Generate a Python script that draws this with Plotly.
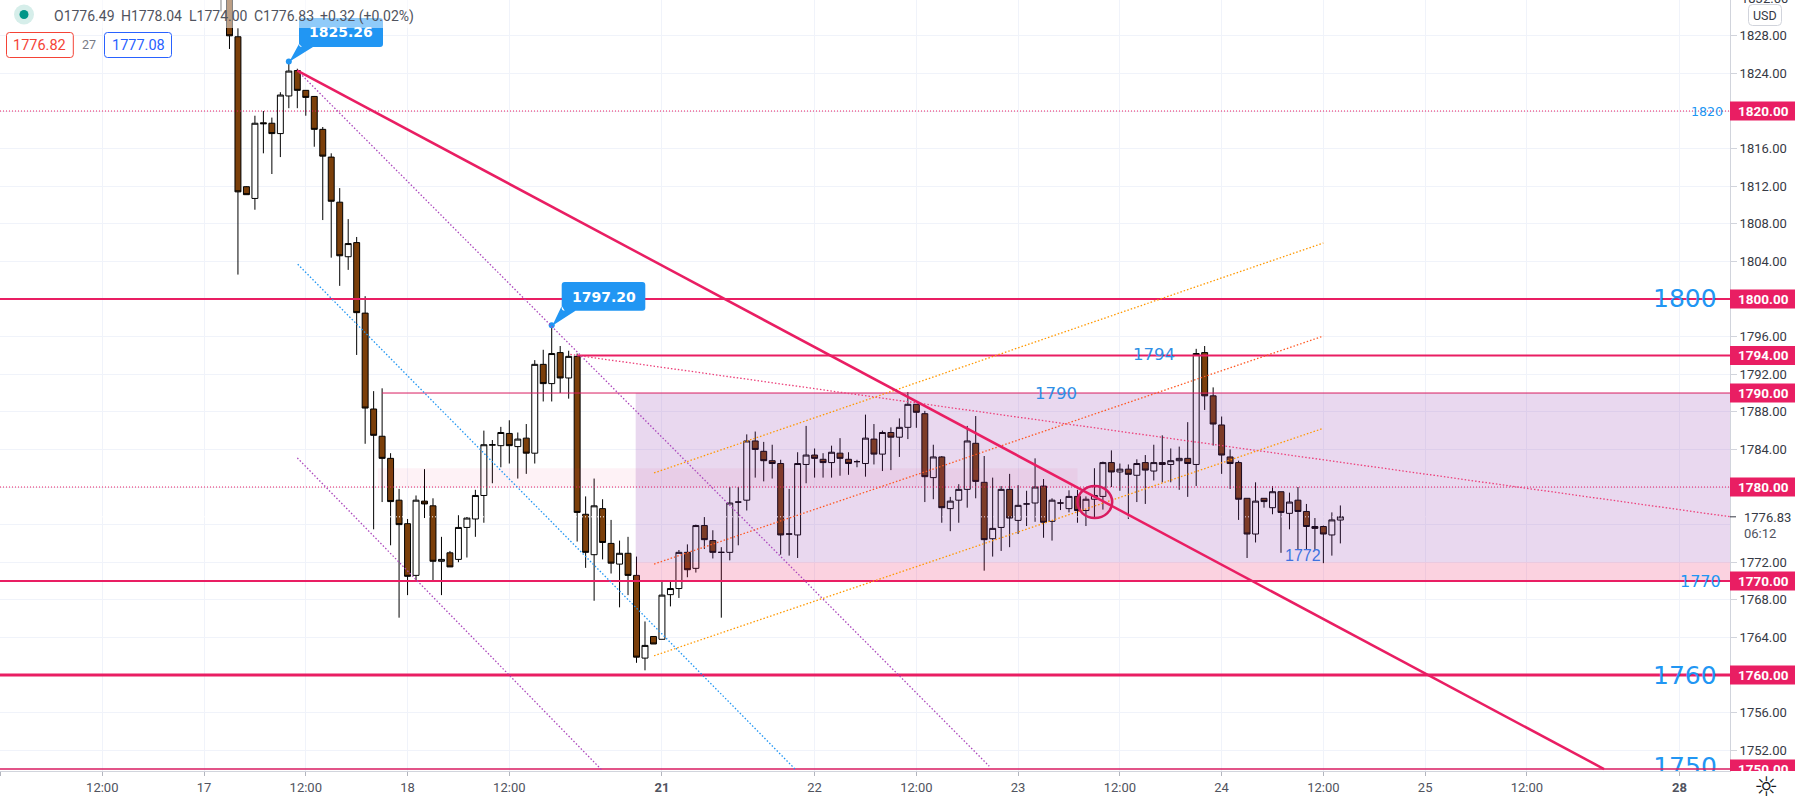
import plotly.graph_objects as go

# ---------- data (bar index = hours on the compressed time axis, 17th 00:00 = 0)
first_bar = 2
opens = [1836,1834,1827.9,1811.95,1810.7,1818.75,1818.7,1817.6,1821.6,1824.3,
 1822.2,1821.55,1818.05,1815.1,1810.3,1804.5,1806.0,1798.5,1788.3,1785.4,
 1783.05,1778.6,1776.1,1770.6,1778.5,1778,1772.1,1773,1772.3,1775.7,
 1776.6,1779.1,1784.45,1784.4,1785.7,1784.3,1785.2,1783.6,1793.05,1791,
 1794.3,1791.6,1793.9,1777.1,1772.8,1777.7,1774,1771.8,1772.95,1770.6,
 1761.8,1764.1,1763.8,1768.55,1769.2,1773.05,1771.35,1775.9,1774.3,1773.05,
 1773.05,1778.4,1778.6,1784.9,1783.8,1782.8,1782.5,1775,1774.9,1782.4,
 1783.4,1782.95,1782.6,1783.6,1782.95,1782.7,1782.5,1785.1,1783.5,1785.8,
 1785.3,1786.35,1788.8,1787.8,1781,1783.2,1777.7,1778.6,1779.75,1784.65,
 1780.5,1774.5,1775.7,1779.75,1776.45,1778.2,1778.3,1780.1,1776.35,1778.3,
 1777.7,1779,1777.5,1778.7,1779,1782.6,1781.6,1781.9,1781.25,1782.6,
 1781.7,1782.6,1782.4,1782.8,1783.05,1782.4,1794.3,1789.7,1786.6,1783.2,
 1782.6,1778.8,1775,1778.8,1777.8,1779.5,1777.2,1778.6,1777.4,1775.8,
 1775.8,1774.9,1776.49]
highs = [1840,1836,1828.8,1812,1819.5,1820,1819.3,1822,1825.26,1824.5,
 1822.2,1821.6,1818.3,1815.5,1811.8,1808.5,1806.6,1800.3,1790.2,1790.5,
 1783.6,1779.8,1776.6,1779.1,1781.9,1778.8,1774.7,1773.2,1777,1776.8,
 1779.7,1786,1785,1786.4,1787.1,1785.8,1786.7,1793.5,1794.6,1797.2,
 1795,1794.5,1794.2,1779,1780.9,1778.7,1776.5,1774.3,1774.7,1772.6,
 1765.7,1764.1,1769.9,1770,1773.3,1773.9,1776,1776.8,1775.4,1773.6,
 1780,1780,1785.6,1785.9,1784.8,1784.5,1782.9,1779.8,1783.7,1786.5,
 1784.1,1783.6,1784.4,1785.2,1783.7,1782.9,1787.7,1786.7,1786,1786.35,
 1787.3,1790.1,1788.8,1788.1,1784.5,1783.3,1778.95,1780.3,1786.5,1787.55,
 1783.3,1781,1780.1,1781.4,1780.2,1779.6,1783.05,1780.85,1778.8,1778.7,
 1779.65,1779.7,1779,1782,1782.7,1783.9,1782.5,1782.4,1782.95,1783.4,
 1784.5,1785.5,1784.1,1784.3,1786.9,1794.7,1795,1790.6,1787.5,1784,
 1782.8,1778.8,1780.5,1778.8,1780.1,1779.5,1779.4,1780,1778.2,1776.7,
 1775.9,1777.3,1778.04]
lows = [1830.6,1826.6,1802.6,1811.1,1809.5,1815.5,1813.3,1815.1,1820.3,1820.3,
 1819.5,1816.2,1808.4,1804.4,1801.4,1803.1,1794.05,1784.6,1775.5,1778.4,
 1773.8,1766.1,1768.5,1770.1,1776.7,1770,1768.5,1771.5,1772,1772.5,
 1774.7,1776.2,1780.4,1782.1,1782.5,1780.9,1781.4,1782.5,1789.1,1789.1,
 1790,1789.4,1774.2,1771.4,1767.9,1772.3,1770.8,1767.2,1768.5,1761.3,
 1760.5,1763.3,1763.8,1767.3,1768.2,1770.4,1770.9,1773.4,1772.4,1766.1,
 1772.2,1773.8,1777.5,1781,1780.6,1780.9,1772.8,1772.7,1772.45,1780.4,
 1781,1781,1781,1781.2,1781.3,1782.1,1781.1,1782.4,1781.7,1781.8,
 1783.2,1785.1,1786.3,1778.4,1778.7,1776.2,1775.3,1776.2,1777.8,1778.8,
 1771.1,1772.6,1773.2,1773.6,1775,1775.85,1776.3,1774.6,1774.3,1777.55,
 1777.3,1776.2,1775.85,1776.8,1777.6,1780,1779.6,1776.6,1778.4,1778.2,
 1780.7,1780.5,1780.5,1779.7,1778.95,1780.1,1788.2,1784.4,1781.4,1779.8,
 1776.5,1772.45,1774.1,1777.8,1777.1,1773,1775.5,1773.3,1773.3,1773.3,
 1771.9,1772.7,1774.0]
closes = [1835,1828,1811.4,1811.1,1818.7,1818.65,1817.6,1821.7,1824.25,1822.2,
 1821.45,1818.05,1815.2,1810.4,1804.6,1805.9,1798.55,1788.4,1785.5,1783.05,
 1778.45,1776,1770.5,1778.6,1778.2,1772.1,1772.3,1771.5,1775.7,1776.7,
 1779.1,1784.5,1784.5,1785.8,1784.4,1785.1,1783.6,1793.05,1791,1794.2,
 1791.6,1793.9,1777.3,1773.05,1778,1774.1,1771.9,1772.95,1770.6,1761.9,
 1763.15,1763.3,1768.5,1769.2,1773.05,1771.2,1775.9,1774.4,1773.05,1773.05,
 1778.3,1778.4,1784.9,1784,1782.8,1782.5,1774.9,1775,1782.5,1783.4,
 1783.05,1782.6,1783.7,1783.05,1782.5,1782.7,1785.2,1783.5,1785.8,1785.3,
 1786.35,1788.8,1787.95,1781.1,1783.2,1777.8,1778.5,1779.75,1784.9,1780.6,
 1774.4,1775.6,1779.75,1776.7,1778.05,1778.2,1780,1776.25,1778.6,1778.3,
 1779,1777.5,1778.7,1779.1,1782.6,1781.6,1781.9,1781.35,1782.5,1781.8,
 1782.6,1782.4,1782.8,1783.05,1782.5,1794.2,1789.7,1786.7,1783.4,1782.5,
 1778.7,1775,1778.5,1778.45,1779.5,1777.3,1778.4,1777.4,1775.8,1775.6,
 1775,1776.5,1776.83]

tick_bars = [-24,-12,0,12,24,36,54,72,84,96,108,120,132,144,156,174]
tick_labels = ["16","12:00","17","12:00","18","12:00","<b>21</b>","22","12:00","23","12:00","24","12:00","25","12:00","<b>28</b>"]
price_ticks = [1828,1824,1816,1812,1808,1804,1796,1792,1788,1784,1772,1768,1764,1756,1752]

level_tags = [1820,1800,1794,1790,1780,1770,1760,1750]
last_price = 1776.83
peak_bars = [10, 41]
peak_prices = [1825.26, 1797.20]
ohlc_items = [("O1776.49",52),("H1778.04",119),("L1774.00",186.7),("C1776.83",251.7),("+0.32 (+0.02%)",318.3)]

# ---------- frame
PW, PH = 1730.0, 771.0
Y_LOW, Y_HIGH = 1749.79, 1831.81
X_LOW, X_HIGH = -24.06, 179.95
PINK, BLUE = "#E91E63", "#2196F3"
FONT = "Roboto"

def xp(px): return px / PW
def yp(py): return 1 - py / PH
def bx(px): return X_LOW + px / PW * (X_HIGH - X_LOW)

def text(t, px, py, size, color, anchor="center", family=FONT, **kw):
    return dict(text=t, xref="paper", yref="paper", x=xp(px), y=yp(py), showarrow=False,
                xanchor=anchor, yanchor="middle", font=dict(size=size, color=color, family=family), **kw)

def rounded(x0, y0, x1, y1, r, fill, line=None, width=1, tail=None):
    p = [f"M {xp(x0+r)} {yp(y0)}", f"L {xp(x1-r)} {yp(y0)}", f"Q {xp(x1)} {yp(y0)} {xp(x1)} {yp(y0+r)}",
         f"L {xp(x1)} {yp(y1-r)}", f"Q {xp(x1)} {yp(y1)} {xp(x1-r)} {yp(y1)}"]
    if tail:
        for a, b in tail:
            p.append(f"L {xp(a)} {yp(b)}")
    p += [f"L {xp(x0+r)} {yp(y1)}", f"Q {xp(x0)} {yp(y1)} {xp(x0)} {yp(y1-r)}",
          f"L {xp(x0)} {yp(y0+r)}", f"Q {xp(x0)} {yp(y0)} {xp(x0+r)} {yp(y0)}", "Z"]
    return dict(type="path", xref="paper", yref="paper", path=" ".join(p), fillcolor=fill,
                line=dict(color=line or fill, width=width if line else 0), layer="above")

def seg(x0, y0, x1, y1, color, width=1, dash="solid"):
    return dict(type="line", xref="x", yref="y", x0=x0, y0=y0, x1=x1, y1=y1,
                line=dict(color=color, width=width, dash=dash), layer="above")

DOT = "1px,2px"
SLANT = "1.5px,2px"
shapes = []
# white last-price line: only shows on candle bodies, lies under the zones
shapes.append(seg(X_LOW, last_price, X_HIGH, last_price, "#ffffff", 1, "1px,2px"))
# zones
zone = lambda x0, x1, y0, y1, c: dict(type="rect", xref="x", yref="y", x0=x0, x1=x1, y0=y0, y1=y1,
                                      fillcolor=c, line=dict(width=0), layer="above")
shapes.append(zone(20.5, 103, 1780, 1782, "rgba(233,30,99,0.06)"))
shapes.append(zone(50.9, X_HIGH, 1772, 1790, "rgba(140,50,170,0.19)"))
shapes.append(zone(50.9, X_HIGH, 1770, 1772, "rgba(233,30,99,0.2)"))
# horizontal levels
shapes += [
    seg(X_LOW, 1820, X_HIGH, 1820, PINK, 1, DOT),
    seg(X_LOW, 1800, X_HIGH, 1800, PINK, 2),
    seg(44, 1794, X_HIGH, 1794, PINK, 2),
    seg(21, 1790, X_HIGH, 1790, "#D81B60", 1),
    seg(X_LOW, 1780, X_HIGH, 1780, PINK, 1, DOT),
    seg(X_LOW, 1770, X_HIGH, 1770, PINK, 2),
    seg(X_LOW, 1760, X_HIGH, 1760, PINK, 3),
    seg(X_LOW, 1750, X_HIGH, 1750, "#D81B60", 1.5),
]
# trend lines
PURPLE, ORANGE, CORAL = "#AB47BC", "#FF9800", "#FF5722"
shapes += [
    seg(11, 1824.3, 92.6, 1750.3, PURPLE, 1.3, SLANT),
    seg(11.05, 1803.7, 69.8, 1749.9, BLUE, 1.3, SLANT),
    seg(11, 1783.1, 46.9, 1749.9, PURPLE, 1.3, SLANT),
    seg(43.2, 1794.1, X_HIGH, 1776.84, "#EC407A", 1.3, SLANT),
    seg(53.07, 1781.5, 132, 1805.96, ORANGE, 1.3, SLANT),
    seg(53.07, 1771.8, 132, 1796.06, CORAL, 1.3, SLANT),
    seg(53.07, 1762.05, 132, 1786.25, ORANGE, 1.3, SLANT),
    seg(11, 1824.3, 165.1, 1750, PINK, 2.5),
]
shapes.append(dict(type="circle", xref="x", yref="y", x0=103, x1=107.1, y0=1776.7, y1=1780.1,
                   line=dict(color="#D81B60", width=2.5), fillcolor="rgba(233,30,99,0.1)", layer="above"))
# callouts
shapes.append(rounded(299, 18, 383, 47, 3, BLUE, tail=[(313, 47), (289.3, 61.7), (299, 44)]))
shapes.append(rounded(561.7, 282, 645.3, 310.7, 3, BLUE, tail=[(575.5, 310.7), (552.3, 325.7), (561.7, 306)]))
# header translucent veil
shapes.append(dict(type="rect", xref="paper", yref="paper", x0=0, x1=xp(415), y0=yp(28), y1=1,
                   fillcolor="rgba(255,255,255,0.5)", line=dict(width=0), layer="above"))
# status dot
shapes.append(dict(type="circle", xref="paper", yref="paper", x0=xp(14), x1=xp(34), y0=yp(24.5), y1=yp(4.5),
                   fillcolor="#D6EEEA", line=dict(width=0), layer="above"))
shapes.append(dict(type="circle", xref="paper", yref="paper", x0=xp(19.5), x1=xp(28.5), y0=yp(19), y1=yp(10),
                   fillcolor="#009688", line=dict(width=0), layer="above"))
# bid/ask boxes
shapes.append(rounded(6.5, 32.5, 73.3, 57.5, 3, "#ffffff", "#F44336", 1))
shapes.append(rounded(104.5, 32.5, 171.5, 57.5, 3, "#ffffff", "#2962FF", 1))
# price tags (clipped to the plot height)
for lv in level_tags:
    h = 9.5 / PH * (Y_HIGH - Y_LOW)
    shapes.append(dict(type="rect", xref="paper", yref="y", x0=1, x1=xp(1795), y0=lv - h, y1=lv + h,
                       fillcolor=PINK, line=dict(width=0), layer="above"))
# USD button and last price tick
shapes.append(rounded(1748.5, 4.5, 1781.5, 25.5, 4, "#ffffff", "#D1D4DC", 1))
shapes.append(dict(type="line", xref="paper", yref="y", x0=1, x1=xp(1736), y0=last_price, y1=last_price,
                   line=dict(color="#363A45", width=1), layer="above"))

anns = []
for t, px in ohlc_items:
    anns.append(text(t, px, 16, 14, "#50535E", "left"))
anns += [
    text("1776.82", 39.9, 45, 14.5, "#F44336"),
    text("27", 89, 44.5, 12.5, "#787B86"),
    text("1777.08", 138, 45, 14.5, "#2962FF"),
    text("<b>1825.26</b>", 341, 32, 14, "#ffffff", family="DejaVu Sans"),
    text("<b>1797.20</b>", 603.5, 296.5, 14, "#ffffff", family="DejaVu Sans"),
    text("1800", 1685, 299, 25, BLUE, family="DejaVu Sans"),
    text("1760", 1685, 675, 25, BLUE, family="DejaVu Sans"),
    text("1820", 1706.7, 111.5, 12.6, BLUE, family="DejaVu Sans"),
    text("1770", 1700, 581, 16, BLUE, family="DejaVu Sans"),
    text("1790", 1056, 393, 16.5, "#2F8FE6", family="DejaVu Sans"),
    text("1794", 1154, 355, 16.5, "#2F8FE6", family="DejaVu Sans"),
    text("1772", 1302.6, 555, 16, "#3F73E0", family="Liberation Sans"),
]
for lv in level_tags:
    py = (Y_HIGH - lv) / (Y_HIGH - Y_LOW) * PH
    anns.append(text(f"<b>{lv:.2f}</b>", 1763.5, py, 13.5, "#ffffff"))
# time-axis corner hides anything that runs below the price column
anns.append(dict(text=" ", xref="paper", yref="paper", x=xp(1731), y=yp(772), xanchor="left", yanchor="top",
                 showarrow=False, bgcolor="#ffffff", width=66, height=29, borderpad=0))
anns += [
    text("☼", 1765.5, 786, 27, "#131722", family="DejaVu Sans"),
    text("USD", 1765, 15, 12.5, "#363A45"),
    text("1832.00", 1764.5, -1.5, 13, "#363A45"),
    text(f"{last_price:.2f}", 1742, 517.5, 13, "#363A45", "left"),
    text("06:12", 1742, 533, 13, "#50535E", "left"),
]

fig = go.Figure()
bars = list(range(first_bar, first_bar + len(opens)))
fig.add_trace(go.Candlestick(
    x=bars, open=opens, high=highs, low=lows, close=closes,
    whiskerwidth=0, showlegend=False, hoverinfo="skip",
    increasing=dict(line=dict(color="#000000", width=1), fillcolor="#ffffff"),
    decreasing=dict(line=dict(color="#000000", width=1), fillcolor="#7B3F0A"),
))
fig.add_trace(go.Scatter(x=peak_bars, y=peak_prices, mode="markers", showlegend=False, hoverinfo="skip",
                         marker=dict(color=BLUE, size=6)))
fig.add_trace(go.Scatter(x=[bx(1685)], y=[1750], mode="text", text=["1750"], cliponaxis=True,
                         textfont=dict(size=25, color=BLUE, family="DejaVu Sans"), textposition="middle center",
                         showlegend=False, hoverinfo="skip"))

fig.update_layout(
    width=1797, height=801, autosize=False,
    margin=dict(l=0, r=67, t=0, b=30, pad=0),
    paper_bgcolor="#ffffff", plot_bgcolor="#ffffff",
    boxgap=0.3, boxgroupgap=0, showlegend=False, shapes=shapes, annotations=anns,
    font=dict(family=FONT, size=13, color="#363A45"),
    xaxis=dict(type="linear", range=[X_LOW, X_HIGH], rangeslider=dict(visible=False),
               tickmode="array", tickvals=tick_bars, ticktext=tick_labels, tickangle=0,
               showgrid=True, gridcolor="#F0F3FA", gridwidth=1, zeroline=False,
               ticks="outside", ticklen=4, tickcolor="#B2B5BE", tickfont=dict(size=13, color="#50535E", family=FONT),
               showline=True, linecolor="#D1D4DC", linewidth=1),
    yaxis=dict(side="right", range=[Y_LOW, Y_HIGH], tickmode="array", tickvals=price_ticks,
               ticktext=[f"{v:.2f}" for v in price_ticks],
               showgrid=True, gridcolor="#F0F3FA", gridwidth=1, zeroline=False,
               ticks="outside", ticklen=6, tickcolor="#D1D4DC", tickfont=dict(size=13, color="#363A45", family=FONT),
               showline=True, linecolor="#D1D4DC", linewidth=1),
)
# gridlines under the tags still exist in the reference
fig.update_yaxes(minor=dict(tickmode="array", tickvals=[1820, 1800, 1780, 1776, 1760], showgrid=True,
                            gridcolor="#F0F3FA", ticks=""))

fig.write_html("out.html", config=dict(displayModeBar=False),
               post_script="document.body.style.margin='0';document.documentElement.style.overflow='hidden';")
